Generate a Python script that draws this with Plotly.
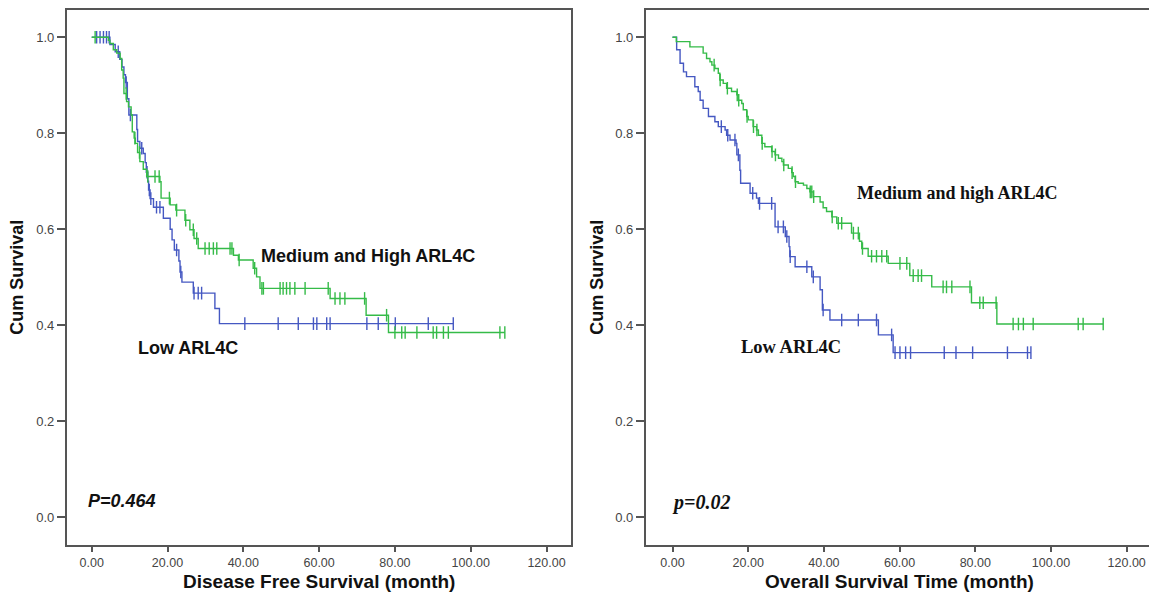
import numpy as np
import plotly.graph_objects as go

# ---------------- data ----------------
tick_months = [0, 20, 40, 60, 80, 100, 120]
tick_month_labels = ["0.00", "20.00", "40.00", "60.00", "80.00", "100.00", "120.00"]
tick_surv = [0.0, 0.2, 0.4, 0.6, 0.8, 1.0]
tick_surv_labels = ["0.0", "0.2", "0.4", "0.6", "0.8", "1.0"]

# Left panel: disease free survival
dfs_low_t = [4.8, 6.2, 7.4, 8.0, 8.5, 8.9, 9.4, 9.8, 11.9, 12.1, 12.7, 13.6, 14.1, 14.4, 14.8, 15.0,
             15.4, 16.3, 18.9, 20.7, 21.2, 21.8, 23.0, 23.3, 23.8, 26.8, 32.5, 33.7]
dfs_low_s = [0.985, 0.970, 0.954, 0.938, 0.922, 0.906, 0.872, 0.838, 0.808, 0.783, 0.769, 0.758, 0.739,
             0.719, 0.700, 0.682, 0.664, 0.646, 0.623, 0.600, 0.578, 0.557, 0.534, 0.511, 0.490, 0.467,
             0.435, 0.4035]
dfs_low_cens = [1.3, 2.2, 3.1, 3.9, 4.6, 7.0, 9.1, 10.2, 13.2, 14.6, 15.2, 15.6, 17.1, 18.0, 22.4,
                23.5, 27.0, 28.1, 29.0, 40.4, 49.2, 54.5, 58.5, 59.4, 62.0, 62.9, 72.6, 75.6, 80.1,
                88.8, 95.4]

dfs_high_t = [4.4, 4.8, 5.7, 6.6, 7.5, 7.9, 8.3, 8.5, 9.2, 9.7, 10.4, 10.7, 11.2, 11.5, 12.1, 12.7,
              13.6, 14.5, 18.0, 18.3, 20.7, 22.2, 24.6, 25.9, 27.0, 28.1, 37.4, 38.7, 42.6, 43.5,
              44.4, 62.9, 72.4, 78.3]
dfs_high_s = [0.994, 0.987, 0.974, 0.967, 0.956, 0.932, 0.915, 0.883, 0.866, 0.855, 0.838, 0.803,
              0.790, 0.779, 0.760, 0.741, 0.725, 0.710, 0.699, 0.665, 0.651, 0.640, 0.619, 0.599,
              0.581, 0.560, 0.546, 0.536, 0.519, 0.501, 0.477, 0.456, 0.421, 0.385]
dfs_high_cens = [0.9, 9.1, 11.4, 12.6, 14.8, 16.7, 17.8, 20.5, 22.4, 24.8, 26.8, 27.7, 29.9, 31.0,
                 32.1, 33.0, 36.5, 37.0, 38.9, 43.0, 44.9, 45.3, 49.7, 50.5, 51.4, 52.3, 53.6, 56.3,
                 62.4, 64.2, 65.5, 66.8, 72.0, 77.8, 80.0, 81.8, 82.7, 85.8, 90.1, 91.0, 92.8, 94.1,
                 107.7, 109.0]

# Right panel: overall survival
os_low_t = [1.1, 2.0, 2.9, 3.7, 5.9, 6.8, 7.3, 8.1, 9.5, 11.2, 12.1, 13.9, 14.3, 15.2, 16.8, 17.0,
            17.8, 18.0, 20.5, 22.2, 22.7, 27.1, 29.8, 30.8, 31.0, 32.4, 36.8, 39.0, 39.6, 41.6,
            54.4, 58.3]
os_low_s = [0.974, 0.946, 0.928, 0.918, 0.897, 0.887, 0.869, 0.852, 0.835, 0.824, 0.814, 0.807,
            0.796, 0.786, 0.779, 0.755, 0.723, 0.696, 0.675, 0.665, 0.654, 0.605, 0.585, 0.564,
            0.543, 0.522, 0.501, 0.474, 0.432, 0.411, 0.380, 0.343]
os_low_cens = [12.9, 14.6, 16.5, 17.4, 21.2, 23.0, 26.2, 27.9, 29.3, 30.2, 31.1, 35.5, 37.2, 39.8,
               44.7, 49.1, 53.9, 57.9, 58.8, 60.1, 61.6, 62.9, 71.8, 74.9, 79.3, 88.5, 93.8, 94.7]

os_high_t = [1.0, 4.6, 8.1, 9.0, 9.9, 10.4, 11.2, 12.1, 12.5, 13.4, 14.3, 15.6, 17.0, 17.4, 18.3,
             18.7, 19.6, 20.0, 21.3, 22.2, 22.7, 23.6, 24.4, 26.2, 27.1, 28.0, 28.9, 29.3, 30.6,
             31.5, 31.9, 32.4, 33.2, 34.6, 35.5, 36.3, 37.2, 39.0, 39.8, 40.7, 42.1, 43.4, 47.3,
             49.4, 50.0, 51.7, 57.0, 62.7, 68.5, 79.0, 85.7]
os_high_s = [0.991, 0.980, 0.967, 0.956, 0.949, 0.942, 0.935, 0.925, 0.911, 0.904, 0.894, 0.887,
             0.880, 0.869, 0.862, 0.849, 0.835, 0.828, 0.814, 0.807, 0.796, 0.779, 0.772, 0.762,
             0.755, 0.748, 0.741, 0.734, 0.727, 0.718, 0.710, 0.699, 0.696, 0.692, 0.685, 0.678,
             0.668, 0.657, 0.645, 0.637, 0.626, 0.6125, 0.592, 0.575, 0.560, 0.544, 0.529, 0.5035,
             0.480, 0.447, 0.4027]
os_high_cens = [11.0, 12.6, 14.5, 17.1, 17.5, 19.7, 21.4, 22.3, 23.7, 26.3, 27.2, 29.4, 31.6, 32.5,
                36.4, 36.8, 37.3, 42.2, 43.8, 44.7, 47.8, 49.1, 50.2, 52.6, 53.9, 55.3, 56.6, 60.1,
                61.9, 63.6, 64.9, 65.8, 71.5, 72.4, 73.8, 78.6, 81.2, 82.1, 85.5, 90.0, 91.4, 92.7,
                95.3, 107.2, 108.5, 113.8]

BLUE = "#4558c2"
GREEN = "#35bb48"
AXIS = "#555555"
TXT = "#111111"
SANS = "Liberation Sans, Arial, sans-serif"
SERIF = "Liberation Serif, Times New Roman, serif"

W, H = 1149, 593


def px_x(p):  # window px -> paper fraction
    return p / W


def px_y(p):
    return 1 - p / H


def surv_at(times, surv, c):
    idx = np.searchsorted(np.array(times), c, side="right")
    return 1.0 if idx == 0 else surv[idx - 1]


def add_km(fig, times, surv, cens, color, xa, ya):
    end = max(max(times), max(cens))
    xs = [0.0] + list(times) + [end]
    ys = [1.0] + list(surv) + [surv[-1]]
    fig.add_trace(go.Scatter(x=xs, y=ys, mode="lines", line=dict(color=color, width=1.4, shape="hv"),
                             xaxis=xa, yaxis=ya, showlegend=False, hoverinfo="skip"))
    cy = [surv_at(times, surv, c) for c in cens]
    fig.add_trace(go.Scatter(x=cens, y=cy, mode="markers",
                             marker=dict(symbol="line-ns", size=9, line=dict(color=color, width=1.4)),
                             xaxis=xa, yaxis=ya, showlegend=False, hoverinfo="skip"))


fig = go.Figure()
add_km(fig, dfs_low_t, dfs_low_s, dfs_low_cens, BLUE, "x", "y")
add_km(fig, dfs_high_t, dfs_high_s, dfs_high_cens, GREEN, "x", "y")
add_km(fig, os_low_t, os_low_s, os_low_cens, BLUE, "x2", "y2")
add_km(fig, os_high_t, os_high_s, os_high_cens, GREEN, "x2", "y2")

ydom = [px_y(545), px_y(10)]
yrange = [-0.0577, 1.0569]

common_x = dict(showgrid=False, zeroline=False, showline=True, linecolor=AXIS, linewidth=1.5,
                ticks="outside", ticklen=5, tickcolor=AXIS, tickwidth=1.5,
                tickvals=tick_months, ticktext=tick_month_labels,
                tickfont=dict(family=SANS, size=12.5, color="#444444"))
common_y = dict(showgrid=False, zeroline=False, showline=True, linecolor=AXIS, linewidth=1.5,
                ticks="outside", ticklen=8, tickcolor=AXIS, tickwidth=1.5,
                tickvals=tick_surv, ticktext=tick_surv_labels, range=yrange,
                tickfont=dict(family=SANS, size=13, color="#444444"), domain=ydom)

fig.update_layout(
    width=W, height=H, margin=dict(l=0, r=0, t=0, b=0),
    paper_bgcolor="white", plot_bgcolor="white",
    xaxis=dict(common_x, domain=[px_x(66.7), px_x(571)], range=[-6.6, 126.46], mirror=True, anchor="y"),
    yaxis=dict(common_y, mirror=True, anchor="x"),
    xaxis2=dict(common_x, domain=[px_x(645.7), 1.0], range=[-7.08, 125.9], mirror=True, anchor="y2"),
    yaxis2=dict(common_y, mirror=False, anchor="x2"),
)


def label(text, x, y, xref, yref, family, size, xanchor="left", angle=0):
    return dict(text=text, x=x, y=y, xref=xref, yref=yref, xanchor=xanchor, yanchor="middle",
                textangle=angle, showarrow=False, font=dict(family=family, size=size, color=TXT))


ann = [
    label("<b>Disease Free Survival (month)</b>", 60, px_y(581), "x", "paper", SANS, 19, "center"),
    label("<b>Overall Survival Time (month)</b>", 60, px_y(581), "x2", "paper", SANS, 19, "center"),
    label("<b>Cum Survival</b>", px_x(17.5), 0.5, "paper", "y", SANS, 18, "center", -90),
    label("<b>Cum Survival</b>", px_x(597.5), 0.5, "paper", "y2", SANS, 18, "center", -90),
    label("<b>Medium and High ARL4C</b>", 44.2, 0.544, "x", "y", SANS, 18),
    label("<b>Low ARL4C</b>", 11.8, 0.352, "x", "y", SANS, 18),
    label("<b><i>P=0.464</i></b>", -1.6, 0.034, "x", "y", SANS, 18),
    label("<b>Medium and high ARL4C</b>", 48.2, 0.675, "x2", "y2", SERIF, 18),
    label("<b>Low ARL4C</b>", 17.5, 0.354, "x2", "y2", SERIF, 18.5),
    label("<b><i>p=0.02</i></b>", -0.7, 0.031, "x2", "y2", SERIF, 20),
]
fig.update_layout(annotations=ann)

# remove the browser's default 8px page margin so the figure fills the window exactly
fig.write_html("out.html", config={"displayModeBar": False},
               post_script="document.body.style.margin='0';")
